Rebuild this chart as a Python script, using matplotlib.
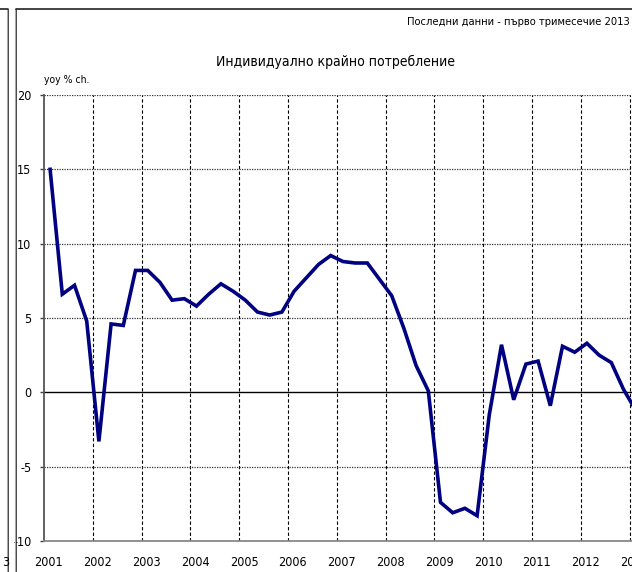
import matplotlib
matplotlib.use("Agg")
import matplotlib.pyplot as plt
from matplotlib.lines import Line2D

plt.rcParams['font.family'] = ['DejaVu Sans']
plt.rcParams['font.stretch'] = 'condensed'

years = ['2001', '2002', '2003', '2004', '2005', '2006', '2007',
         '2008', '2009', '2010', '2011', '2012', '2013']

# quarterly yoy % change, 2001Q1 .. 2013Q1
consumption = [15.0, 6.6, 7.2, 4.8,
               -3.3, 4.6, 4.5, 8.2,
               8.2, 7.4, 6.2, 6.3,
               5.8, 6.6, 7.3, 6.8,
               6.2, 5.4, 5.2, 5.4,
               6.8, 7.7, 8.6, 9.2,
               8.8, 8.7, 8.7, 7.6,
               6.5, 4.3, 1.8, 0.1,
               -7.4, -8.1, -7.8, -8.3,
               -1.5, 3.2, -0.5, 1.9,
               2.1, -0.9, 3.1, 2.7,
               3.3, 2.5, 2.0, 0.2,
               -1.2]

W, H = 632, 572
fig = plt.figure(figsize=(W / 100, H / 100), dpi=100)

# plot area (right side runs past the picture edge, as in the source crop)
x0, x1 = 44, 44 + 12.2 * 49.5
ytop, ybot = 95, 541
ax = fig.add_axes([x0 / W, 1 - ybot / H, (x1 - x0) / W, (ybot - ytop) / H])

q = list(range(len(consumption)))
ax.set_xlim(-0.5, 49)
ax.set_ylim(-10, 20)

for k in range(1, len(years)):
    ax.axvline(4 * k - 0.5, color='black', lw=0.8, ls=(0, (3, 2)), zorder=1)
for v in [-5, 5, 10, 15, 20]:
    ax.axhline(v, color='#333333', lw=0.9, ls=(0, (1, 1)), zorder=1)
ax.axhline(0, color='black', lw=1.0, zorder=2)

ax.plot(q, consumption, color='#000080', lw=2.6, solid_joinstyle='miter', zorder=3)

ax.set_yticks([-10, -5, 0, 5, 10, 15, 20])
ax.set_yticklabels(['-10', '-5', '0', '5', '10', '15', '20'])
ax.tick_params(axis='y', direction='out', length=3, width=1, color='#444444',
               labelsize=9, pad=6)
ax.set_xticks([4 * k - 0.1 for k in range(len(years))])
ax.set_xticklabels(years)
ax.tick_params(axis='x', length=0, labelsize=9, pad=11)

for s in ['top', 'right']:
    ax.spines[s].set_visible(False)
ax.spines['left'].set_color('#555555')
ax.spines['left'].set_linewidth(1.3)
ax.spines['bottom'].set_color('#888888')
ax.spines['bottom'].set_linewidth(1.3)

fig.text(335 / W, 1 - 62 / H, 'Индивидуално крайно потребление',
         ha='center', va='center', fontsize=10)
fig.text(630 / W, 1 - 22 / H, 'Последни данни - първо тримесечие 2013',
         ha='right', va='center', fontsize=8)
fig.text(44 / W, 1 - 80 / H, 'yoy % ch.', ha='left', va='center', fontsize=7.5)
fig.text(2 / W, 1 - 562 / H, '3', ha='left', va='center', fontsize=9)

# chart frames (edge of previous chart and this one)
def px(xs, ys, **kw):
    fig.add_artist(Line2D([x / W for x in xs], [1 - y / H for y in ys],
                          transform=fig.transFigure, **kw))

px([0, 8, 8], [9, 9, 572], color='#222222', lw=1.2)
px([7, 7], [10, 572], color='#aaaaaa', lw=0.8)
px([16, 16, W], [572, 9, 9], color='#222222', lw=1.2)
px([15, 15], [10, 572], color='#aaaaaa', lw=0.8)

fig.savefig('out.png', dpi=100)
